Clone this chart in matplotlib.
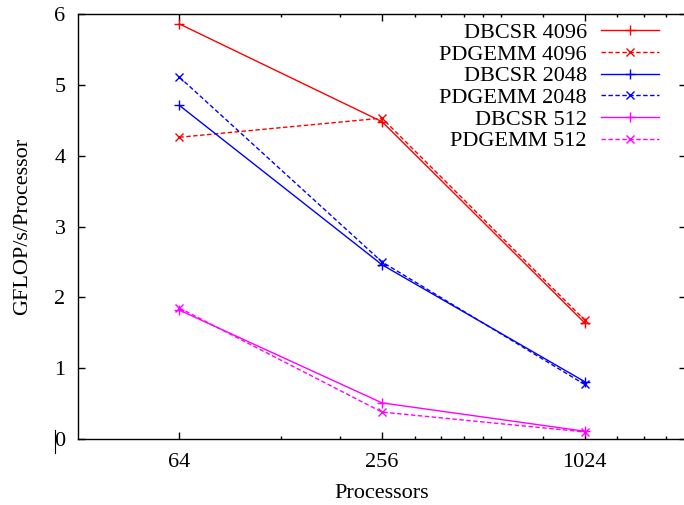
import matplotlib
matplotlib.use("Agg")
import matplotlib.pyplot as plt
from matplotlib.ticker import FixedLocator, NullFormatter
from matplotlib.lines import Line2D

plt.rcParams['font.family'] = ['Liberation Serif', 'DejaVu Serif']
plt.rcParams['font.size'] = 16
plt.rcParams['lines.dashed_pattern'] = [3.2, 1.8]

# data
procs = [64, 256, 1024]
dbcsr_4096 = [5.86, 4.48, 1.64]
pdgemm_4096 = [4.26, 4.53, 1.68]
dbcsr_2048 = [4.71, 2.46, 0.81]
pdgemm_2048 = [5.11, 2.50, 0.77]
dbcsr_512 = [1.82, 0.51, 0.11]
pdgemm_512 = [1.85, 0.38, 0.10]

minor_ticks = [128, 192, 320, 384, 448, 512, 576, 768, 1280, 1536, 1792]

fig = plt.figure(figsize=(6.84, 5.05), dpi=100)
ax = fig.add_axes([78 / 684, 66 / 505, 608 / 684, 425 / 505])

ax.plot(procs, dbcsr_4096, color='#ff0000', ls='-', lw=1, marker='+', ms=7, mew=1, label='DBCSR 4096')
ax.plot(procs, pdgemm_4096, color='#ff0000', ls='--', lw=1, marker='x', ms=5.5, mew=1, label='PDGEMM 4096')
ax.plot(procs, dbcsr_2048, color='#0000ff', ls='-', lw=1, marker='+', ms=7, mew=1, label='DBCSR 2048')
ax.plot(procs, pdgemm_2048, color='#0000ff', ls='--', lw=1, marker='x', ms=5.5, mew=1, label='PDGEMM 2048')
ax.plot(procs, dbcsr_512, color='#ff00ff', ls='-', lw=1, marker='+', ms=7, mew=1, label='DBCSR 512')
ax.plot(procs, pdgemm_512, color='#ff00ff', ls='--', lw=1, marker='x', ms=5.5, mew=1, label='PDGEMM 512')

ax.set_xscale('log', base=2)
ax.set_xlim(32, 2048)
ax.set_ylim(0, 6)
ax.set_xticks(procs)
ax.set_xticklabels([str(p) for p in procs])
ax.xaxis.set_minor_locator(FixedLocator(minor_ticks))
ax.xaxis.set_minor_formatter(NullFormatter())
ax.set_yticks([0, 1, 2, 3, 4, 5, 6])

ax.tick_params(which='both', direction='in', top=True, right=True, width=1)
ax.tick_params(which='major', length=5)
ax.tick_params(which='minor', length=2.5)
ax.tick_params(axis='y', pad=9)
ax.tick_params(axis='x', pad=10)
for s in ax.spines.values():
    s.set_linewidth(1)

ax.set_xlabel('Processors', labelpad=9)
ax.set_ylabel('GFLOP/s/Processor', labelpad=16)

leg = ax.legend(loc='upper right', bbox_to_anchor=(581 / 608, 0.98), markerfirst=False,
                frameon=False, borderpad=0, borderaxespad=0, handlelength=2.6,
                handletextpad=0.65, labelspacing=0.05)

# small stray bar next to the 0 label in the original
fig.add_artist(Line2D([55 / 684, 55 / 684], [1 - 430 / 505, 1 - 453 / 505], color='black', lw=0.8))

fig.savefig('out.png', dpi=100)
